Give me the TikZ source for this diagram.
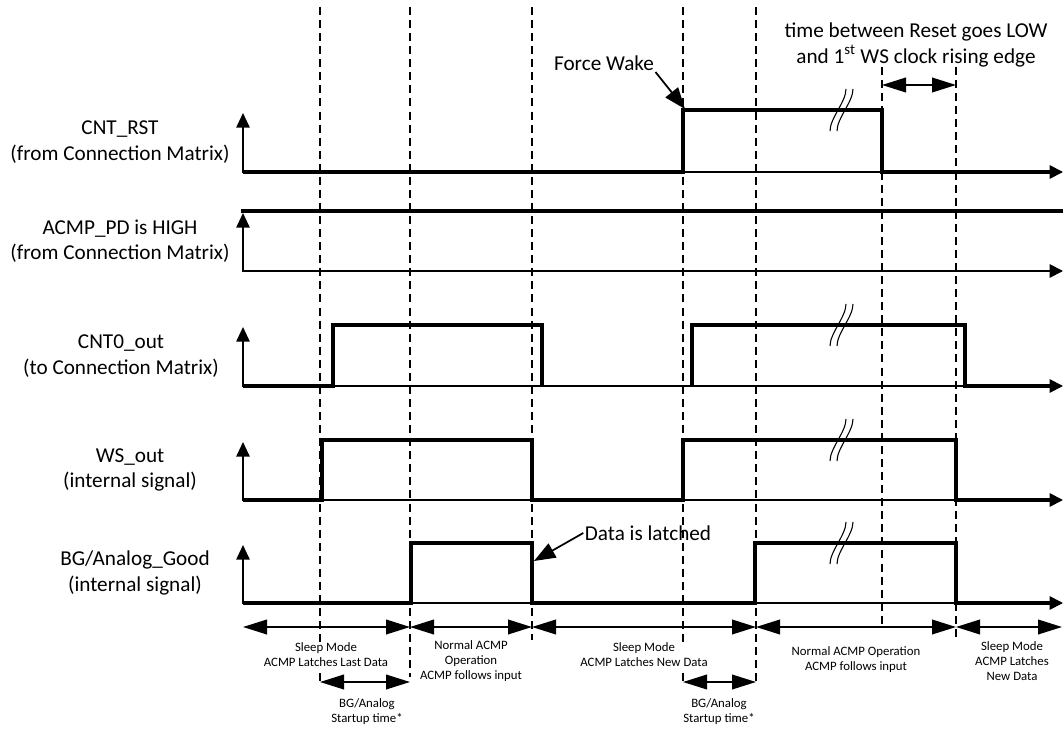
\documentclass[tikz,border=0pt]{standalone}
\usepackage{fontspec}
\setmainfont{Carlito}
\usetikzlibrary{arrows.meta}
\tikzset{
  sig/.style={line width=2.8pt,line join=miter},
  timeaxis/.style={line width=1.4pt,{Triangle[length=11pt,width=10pt]}-{Triangle[length=10pt,width=10pt]}},
  guide/.style={line width=1.6pt,dash pattern=on 6pt off 3.8pt},
  spanarrow/.style={line width=1.3pt,{Triangle[length=18pt,width=11pt]}-{Triangle[length=18pt,width=11pt]}},
  pointer/.style={line width=1.3pt,-{Triangle[length=16pt,width=12pt]}},
  brk/.style={line width=0.8pt},
  siglabel/.style={align=center,inner sep=1pt,font=\fontsize{15.9}{19.2}\selectfont},
  note/.style={align=center,fill=white,inner sep=1pt,font=\fontsize{9.6}{11.25}\selectfont},
}
\begin{document}
\begin{tikzpicture}[x=0.75pt,y=-0.75pt]
\useasboundingbox (0,0) rectangle (1064,731);
\foreach \x/\a/\b in {320/7/682, 410/7/677, 532/7/640, 683/7/682, 756/7/682, 882/67/627, 956/67/640}
  \draw[guide] (\x,\a) -- (\x,\b);
\node[siglabel] (rst) at (120,142) {CNT\_RST\\(from Connection Matrix)};
\node[siglabel] (pd) at (120,241) {ACMP\_PD is HIGH\\(from Connection Matrix)};
\node[siglabel] (cnt) at (121,356) {CNT0\_out\\(to Connection Matrix)};
\node[siglabel] (ws) at (130,470) {WS\_out\\(internal signal)};
\node[siglabel] (bg) at (135,573) {BG/Analog\_Good\\(internal signal)};
\draw[timeaxis] (243,113) -- (243,172) -- (1063,172);
\draw[timeaxis] (243,213) -- (243,271) -- (1063,271);
\draw[timeaxis] (243,327) -- (243,386) -- (1063,386);
\draw[timeaxis] (243,442) -- (243,500) -- (1063,500);
\draw[timeaxis] (243,545) -- (243,603) -- (1063,603);
\draw[sig] (243,172) -- (683,172) -- (683,110) -- (882,110) -- (882,172) -- (1050,172);
\draw[sig] (241,211) -- (1063,211);
\draw[sig] (243,386) -- (333,386) -- (333,325) -- (542,325) -- (542,386);
\draw[sig] (692,386) -- (692,325) -- (965,325) -- (965,386) -- (1050,386);
\draw[sig] (243,500) -- (322,500) -- (322,440) -- (532,440) -- (532,500) -- (683,500) -- (683,440) -- (956,440) -- (956,500) -- (1050,500);
\draw[sig] (243,603) -- (411,603) -- (411,543) -- (532,543) -- (532,603) -- (755,603) -- (755,543) -- (956,543) -- (956,603) -- (1050,603);
\foreach \y in {110,325,440,543} {
  \draw[brk] (830,\y+21) .. controls (830,\y+8) and (846,\y-8) .. (846,\y-21);
  \draw[brk] (837,\y+21) .. controls (837,\y+8) and (853,\y-8) .. (853,\y-21);
}
\node[siglabel] (fw) at (604,63) {Force Wake};
\coordinate (fwtip) at (685,109);
\draw[pointer] (fw.south east) -- (fwtip);
\node[siglabel] (dl) at (648,533) {Data is latched};
\coordinate (dltip) at (534,561);
\draw[pointer] (dl.west) -- (dltip);
\node[siglabel] (gap) at (916,45) {time between Reset goes LOW\\and 1\textsuperscript{st} WS clock rising edge};
\coordinate (c0) at (882,85);
\coordinate (c1) at (956,85);
\draw[spanarrow] (c0) -- (c1);
\coordinate (a0) at (243,627);
\coordinate (a1) at (410,627);
\coordinate (a2) at (532,627);
\coordinate (a3) at (756,627);
\coordinate (a4) at (956,627);
\coordinate (a5) at (1062,627);
\draw[spanarrow] (a0) -- (a1);
\draw[spanarrow] (a1) -- (a2);
\draw[spanarrow] (a2) -- (a3);
\draw[spanarrow] (a3) -- (a4);
\draw[spanarrow] (a4) -- (a5);
\coordinate (b0) at (320,682);
\coordinate (b1) at (410,682);
\coordinate (b2) at (683,682);
\coordinate (b3) at (756,682);
\draw[spanarrow] (b0) -- (b1);
\draw[spanarrow] (b2) -- (b3);
\node[note] (sleep1) at (326,655) {Sleep Mode\\ACMP Latches Last Data};
\node[note] (norm1) at (471,661) {Normal ACMP\\Operation\\ACMP follows input};
\node[note] (sleep2) at (644,655) {Sleep Mode\\ACMP Latches New Data};
\node[note] (norm2) at (856,660) {Normal ACMP Operation\\ACMP follows input};
\node[note] (sleep3) at (1012,661) {Sleep Mode\\ACMP Latches\\New Data};
\node[note] (start1) at (367,712) {BG/Analog\\Startup time*};
\node[note] (start2) at (719,712) {BG/Analog\\Startup time*};
\end{tikzpicture}
\end{document}
